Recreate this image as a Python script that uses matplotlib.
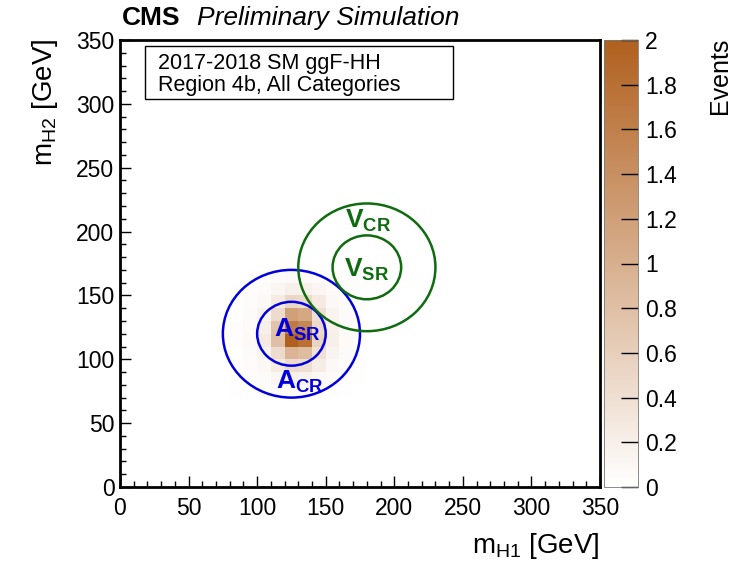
import numpy as np
import matplotlib
matplotlib.use("Agg")
import matplotlib.pyplot as plt
from matplotlib.colors import LinearSegmentedColormap
from matplotlib.patches import Ellipse, Rectangle
from matplotlib.ticker import MultipleLocator, FuncFormatter

plt.rcParams["font.family"] = ["Liberation Sans", "DejaVu Sans"]
plt.rcParams["mathtext.fontset"] = "custom"
plt.rcParams["mathtext.rm"] = "Liberation Sans"
plt.rcParams["mathtext.bf"] = "Liberation Sans:bold"
plt.rcParams["mathtext.it"] = "Liberation Sans:italic"

# 10 GeV binning of the signal histogram (m_H1 along x, m_H2 along y)
x_edges = [80, 90, 100, 110, 120, 130, 140, 150, 160, 170, 180]
y_edges = [70, 80, 90, 100, 110, 120, 130, 140, 150, 160, 170]

# events per bin, one row per m_H2 bin (bottom to top)
events = [
    [0.01, 0.02, 0.03, 0.05, 0.07, 0.06, 0.04, 0.03, 0.01, 0.00],  # 70-80
    [0.01, 0.03, 0.05, 0.12, 0.18, 0.15, 0.09, 0.05, 0.02, 0.01],  # 80-90
    [0.02, 0.04, 0.09, 0.25, 0.45, 0.40, 0.22, 0.09, 0.04, 0.01],  # 90-100
    [0.02, 0.06, 0.16, 0.45, 0.95, 0.85, 0.38, 0.14, 0.05, 0.02],  # 100-110
    [0.03, 0.08, 0.25, 0.80, 2.00, 1.80, 0.55, 0.20, 0.07, 0.02],  # 110-120
    [0.03, 0.07, 0.20, 0.75, 1.65, 1.50, 0.48, 0.18, 0.06, 0.02],  # 120-130
    [0.02, 0.05, 0.14, 0.45, 1.20, 1.10, 0.40, 0.14, 0.05, 0.02],  # 130-140
    [0.02, 0.04, 0.09, 0.25, 0.50, 0.45, 0.25, 0.09, 0.04, 0.01],  # 140-150
    [0.01, 0.03, 0.05, 0.12, 0.20, 0.18, 0.11, 0.05, 0.02, 0.01],  # 150-160
    [0.00, 0.01, 0.03, 0.05, 0.08, 0.08, 0.05, 0.03, 0.01, 0.00],  # 160-170
]

# analysis regions: centre (m_H1, m_H2), SR and CR radii
a_center = (125, 120)
v_center = (180, 172)
sr_radius = 25
cr_radius = 50

cbar_ticks = [0, 0.2, 0.4, 0.6, 0.8, 1.0, 1.2, 1.4, 1.6, 1.8, 2.0]

W, H = 736, 563
fig = plt.figure(figsize=(W / 100, H / 100), dpi=100)
ax = fig.add_axes([120 / W, 76 / H, 480 / W, 447 / H])
cax = fig.add_axes([604 / W, 76 / H, 34 / W, 447 / H])

cmap = LinearSegmentedColormap.from_list("brown", ["#ffffff", "#b0601e"])
mesh = ax.pcolormesh(x_edges, y_edges, np.array(events), cmap=cmap,
                     vmin=0, vmax=2, shading="flat")

blue = "#0000dd"
green = "#0f6b0f"
for center, col in ((a_center, blue), (v_center, green)):
    for r in (sr_radius, cr_radius):
        ax.add_patch(Ellipse(center, 2 * r, 2 * r, fill=False,
                             edgecolor=col, lw=1.8))

lab = dict(fontsize=19, ha="center", va="center")
ax.text(129, 123, r"$\mathbf{A}_{\mathbf{SR}}$", color=blue, **lab)
ax.text(131, 82, r"$\mathbf{A}_{\mathbf{CR}}$", color=blue, **lab)
ax.text(181, 208, r"$\mathbf{V}_{\mathbf{CR}}$", color=green, **lab)
ax.text(180, 170, r"$\mathbf{V}_{\mathbf{SR}}$", color=green, **lab)

ax.set_xlim(0, 350)
ax.set_ylim(0, 350)
ax.xaxis.set_major_locator(MultipleLocator(50))
ax.xaxis.set_minor_locator(MultipleLocator(10))
ax.yaxis.set_major_locator(MultipleLocator(50))
ax.yaxis.set_minor_locator(MultipleLocator(10))
ax.tick_params(which="both", direction="in", top=False, right=False,
               labelsize=16.5, width=1)
ax.tick_params(which="major", length=8)
ax.tick_params(which="minor", length=4)
ax.tick_params(axis="x", pad=7)
ax.tick_params(axis="y", pad=4)
for sp in ax.spines.values():
    sp.set_linewidth(2)

# info box in the top-left corner
ax.add_patch(Rectangle((0.052, 0.868), 0.642, 0.119, transform=ax.transAxes,
                       fill=False, edgecolor="black", lw=1, zorder=5))
ax.text(0.079, 0.948, "2017-2018 SM ggF-HH", transform=ax.transAxes,
        fontsize=15.5, va="center", ha="left")
ax.text(0.079, 0.899, "Region 4b, All Categories", transform=ax.transAxes,
        fontsize=15.5, va="center", ha="left")

ax.set_xlabel(r"m$_{\mathregular{H1}}$ [GeV]", fontsize=20, loc="right",
              labelpad=8)
fig.text(45 / W, 1 - 38 / H, r"m$_{\mathregular{H2}}$ [GeV]", fontsize=20,
         rotation=90, ha="center", va="top")

# z-axis palette
cb = fig.colorbar(mesh, cax=cax, ticks=cbar_ticks)
cb.outline.set_linewidth(0.6)
cb.outline.set_edgecolor("#777777")
cax.yaxis.set_major_formatter(FuncFormatter(lambda v, p: f"{v:g}"))
cax.tick_params(direction="in", length=12, width=1, labelsize=16.5, pad=5)
fig.text(720 / W, 1 - 38 / H, "Events", fontsize=18, rotation=90,
         ha="center", va="top")

fig.text(122 / W, 1 - 18 / H, "CMS", fontsize=19, fontweight="bold",
         ha="left", va="center")
fig.text(197 / W, 1 - 18 / H, "Preliminary Simulation", fontsize=19,
         fontstyle="italic", ha="left", va="center")

fig.savefig("out.png", dpi=100)
